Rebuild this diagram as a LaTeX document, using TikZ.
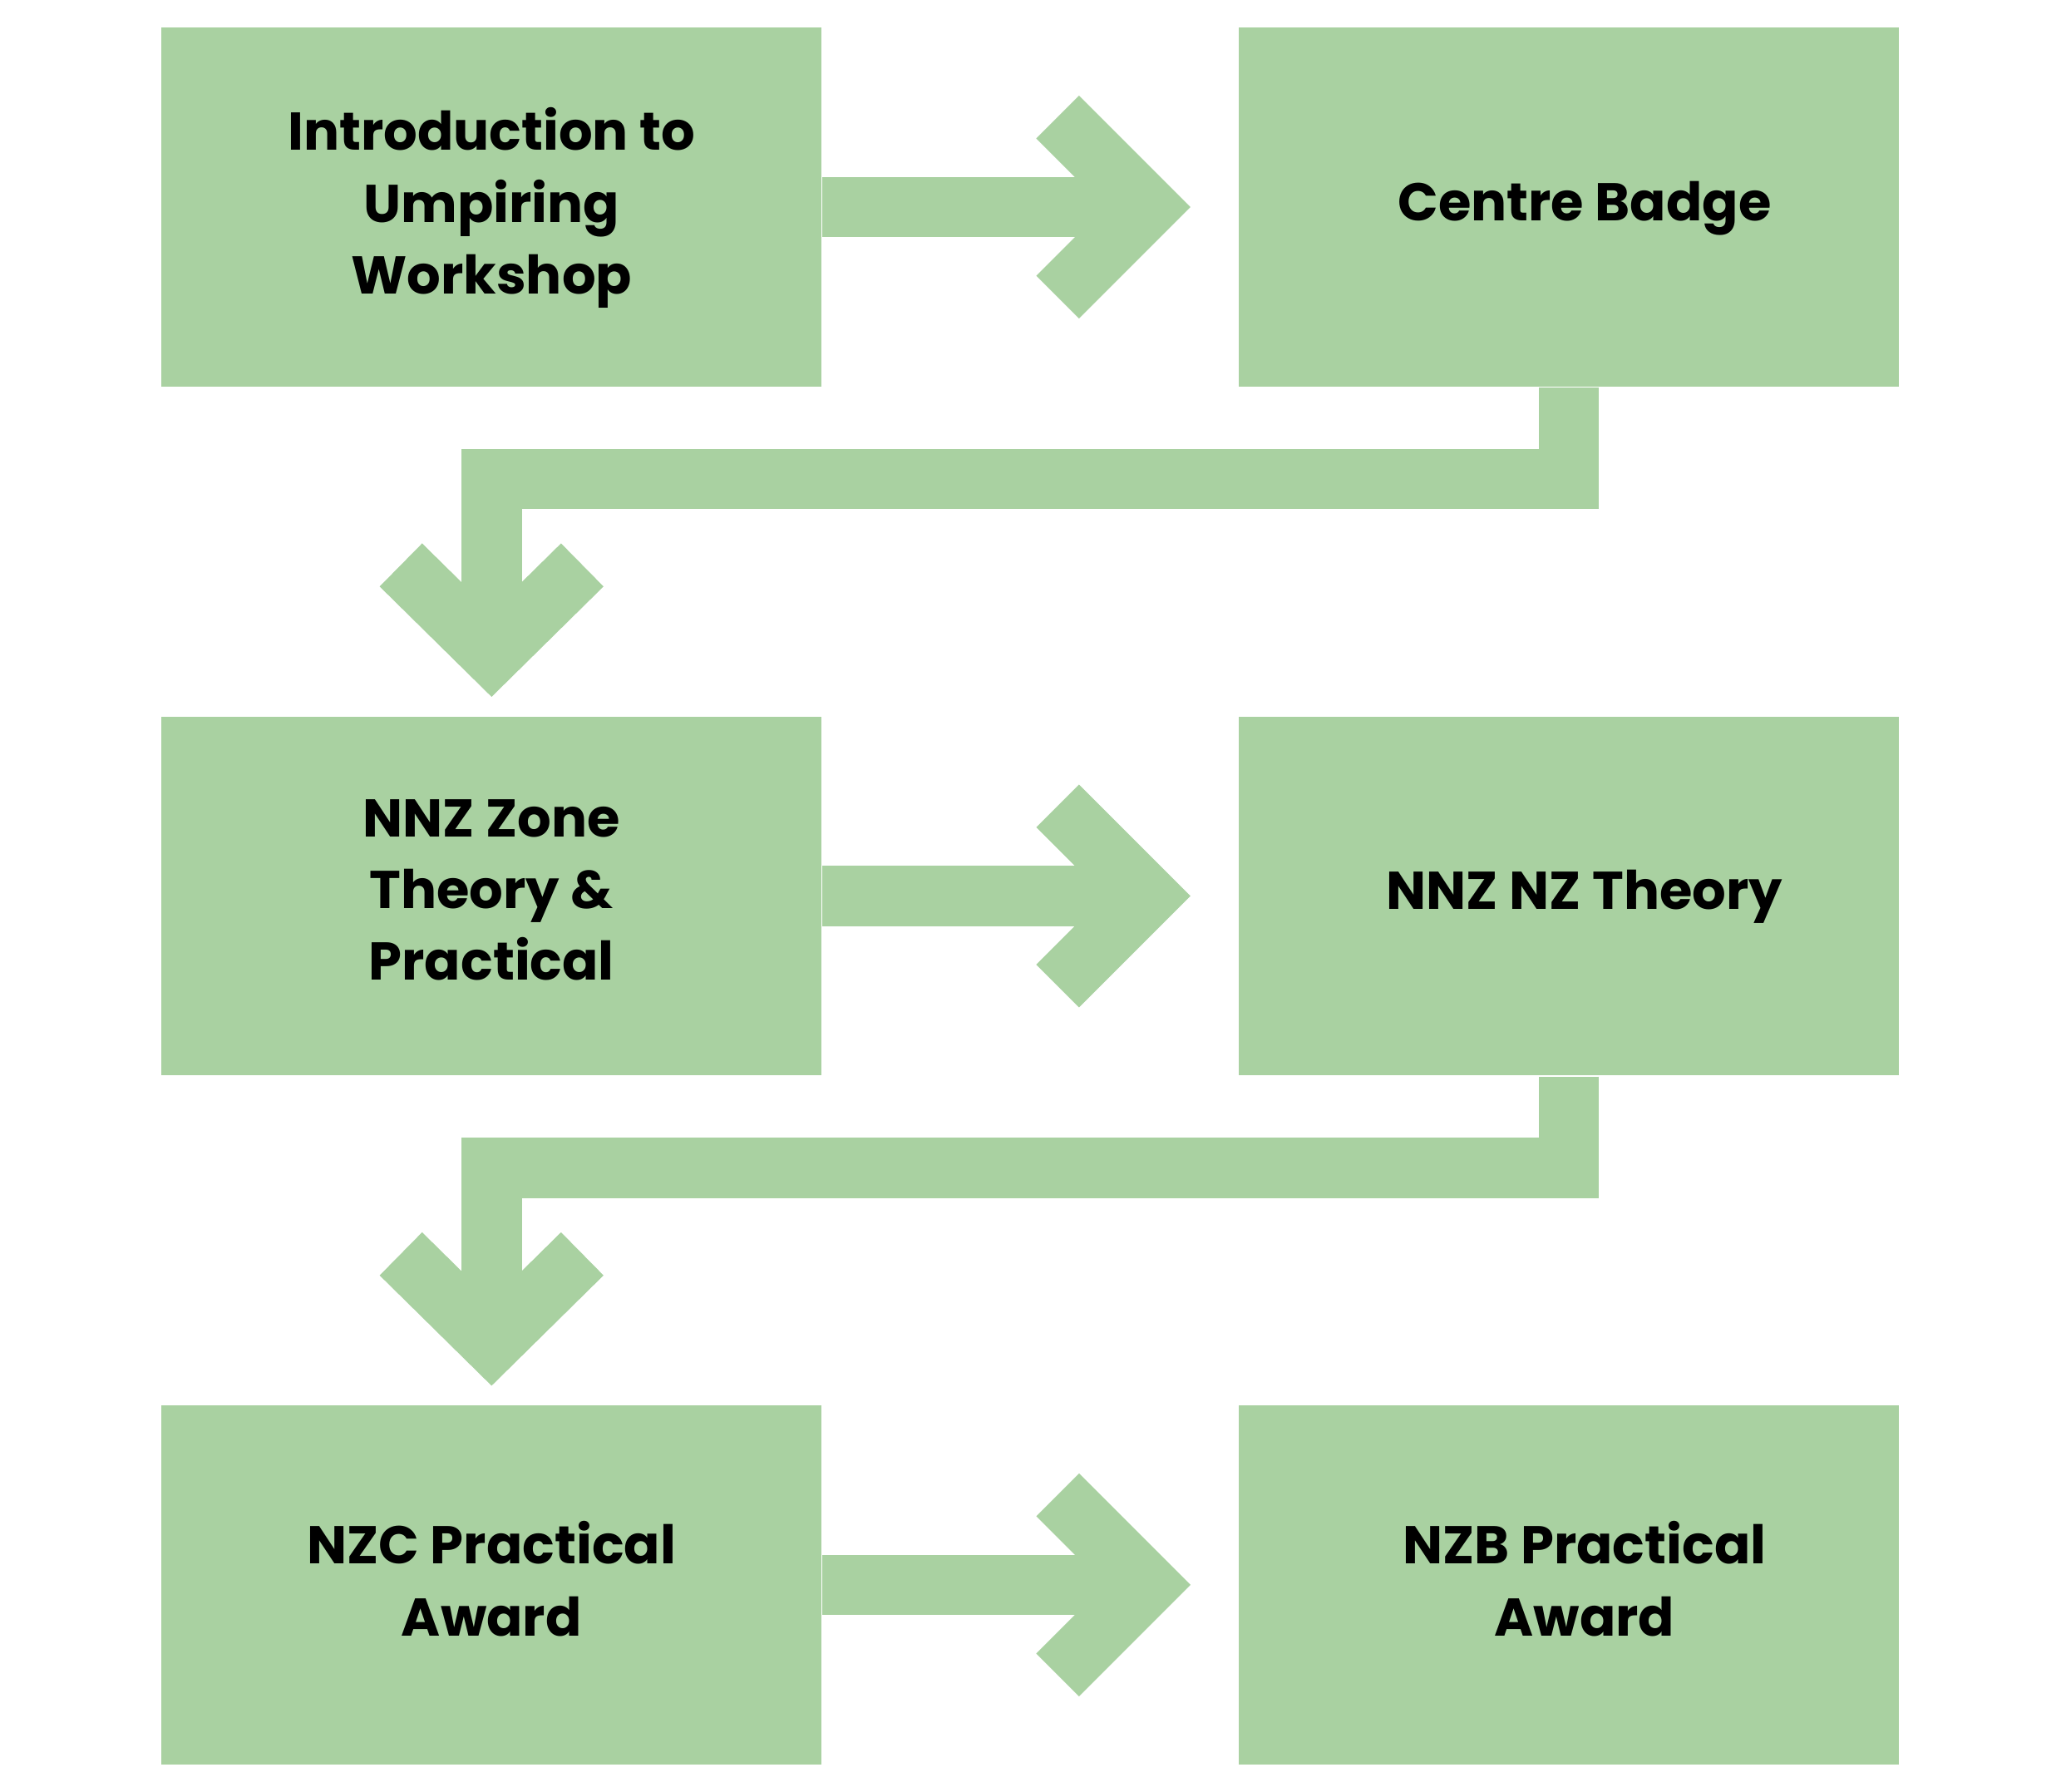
\documentclass[tikz,border=0pt]{standalone}
\usepackage{fontspec}
\setmainfont{Poppins}
\usetikzlibrary{calc}
\definecolor{boxgreen}{HTML}{A9D1A1}
\newcommand{\stageshift}{\hspace*{0.24cm}}
\begin{document}
\begin{tikzpicture}[x=0.01cm,y=-0.01cm,
	stage/.style={rectangle, fill=boxgreen, minimum width=5.02cm, minimum height=2.73cm, inner sep=0pt, text depth=2.7pt, align=center, font=\fontsize{11.5}{15.5}\selectfont\bfseries},
	link/.style={draw=boxgreen, line width=0.46cm, line join=miter},
	chevron/.style={draw=boxgreen, line width=0.46cm, line join=miter}]
	\useasboundingbox (0,0) rectangle (1568,1363);
	\node (intro)	at ( 374,  157.5)	[stage]	{Introduction to\\Umpiring\\Workshop};
	\node (badge)	at (1193.5, 157.5)	[stage]	{\stageshift Centre Badge};
	\node (zone)	at ( 374,  681.5)	[stage]	{NNZ Zone\\Theory \&\\Practical};
	\node (theory)	at (1193.5, 681.5)	[stage]	{\stageshift NNZ NZ Theory};
	\node (nzc)	at ( 374, 1205.5)	[stage]	{NZC Practical\\Award};
	\node (nzb)	at (1193.5,1205.5)	[stage]	{\stageshift NZB Practical\\\stageshift Award};
	% across
	\draw[link] (intro.east) -- ($(badge.west)+(-93,0)$);
	\draw[chevron] ($(badge.west)+(-137,-68.5)$) -- ($(badge.west)+(-68.5,0)$) -- ($(badge.west)+(-137,68.5)$);
	\draw[link] (zone.east) -- ($(theory.west)+(-93,0)$);
	\draw[chevron] ($(theory.west)+(-137,-68.5)$) -- ($(theory.west)+(-68.5,0)$) -- ($(theory.west)+(-137,68.5)$);
	\draw[link] (nzc.east) -- ($(nzb.west)+(-93,0)$);
	\draw[chevron] ($(nzb.west)+(-137,-68.5)$) -- ($(nzb.west)+(-68.5,0)$) -- ($(nzb.west)+(-137,68.5)$);
	% down to next row
	\draw[link] (badge.south) -- ++(0,69.5) -| ($(zone.north)+(0,-75)$);
	\draw[chevron] ($(zone.north)+(-69,-114.5)$) -- ($(zone.north)+(0,-46.5)$) -- ($(zone.north)+(69,-114.5)$);
	\draw[link] (theory.south) -- ++(0,69.5) -| ($(nzc.north)+(0,-75)$);
	\draw[chevron] ($(nzc.north)+(-69,-114.5)$) -- ($(nzc.north)+(0,-46.5)$) -- ($(nzc.north)+(69,-114.5)$);
\end{tikzpicture}
\end{document}
